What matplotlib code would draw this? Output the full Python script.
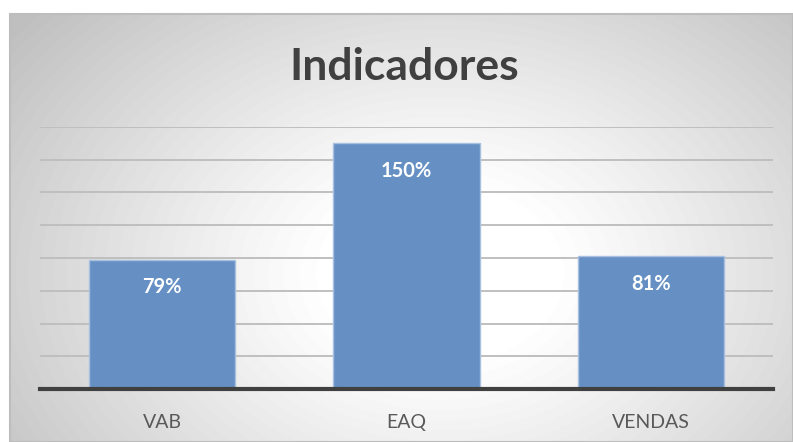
import matplotlib.pyplot as plt
import numpy as np
from matplotlib.patches import Rectangle

categories = ["VAB", "EAQ", "VENDAS"]
values = [79, 150, 81]
labels = ["79%", "150%", "81%"]
title = "Indicadores"

FONT = ["Lato", "DejaVu Sans"]


def main():
    W, H = 793, 442
    fig = plt.figure(figsize=(W / 100, H / 100), dpi=100)
    fig.patch.set_facecolor("white")

    # chart area with radial gradient background
    fl, fb = 10 / W, 0.0
    fw, fh = 1 - fl, 1 - 14 / H
    bg = fig.add_axes([fl, fb, fw, fh])
    yy, xx = np.mgrid[0:428, 0:783]
    cx, cy = 430, 260
    r = np.sqrt(((xx - cx) / 520.0) ** 2 + ((yy - cy) / 380.0) ** 2)
    shade = 1.0 - 0.25 * np.clip((r - 0.22) / 0.82, 0, 1) ** 1.1
    bg.imshow(shade, cmap="gray", vmin=0, vmax=1, aspect="auto",
              extent=[0, 1, 0, 1], origin="upper")
    bg.set_xlim(0, 1)
    bg.set_ylim(0, 1)
    bg.axis("off")
    fig.add_artist(Rectangle((fl, fb), fw, fh, transform=fig.transFigure,
                             fill=False, edgecolor="#bdbdbd", lw=1.5))

    ax = fig.add_axes([40 / W, 1 - 389 / H, (773 - 40) / W, (389 - 127) / H])
    ax.patch.set_alpha(0)
    x = np.arange(len(categories))
    ax.bar(x, values, width=0.6, color="#6690c4", edgecolor="#a8c0df",
           linewidth=1.0, zorder=3)
    ax.set_xlim(-0.5, len(categories) - 0.5)
    ax.set_ylim(0, 160)
    ax.set_yticks(np.arange(20, 161, 20))
    ax.yaxis.grid(True, color="#bfbfbf", lw=1.4, zorder=0)
    ax.tick_params(axis="y", left=False, labelleft=False)
    ax.tick_params(axis="x", length=0, pad=18)
    ax.set_xticks(x, categories, fontsize=14, color="#595959", family=FONT)
    for s in ["top", "right", "left"]:
        ax.spines[s].set_visible(False)
    ax.spines["bottom"].set_color("#404040")
    ax.spines["bottom"].set_linewidth(3)
    ax.spines["bottom"].set_zorder(4)

    for xi, v, lab in zip(x, values, labels):
        ax.annotate(lab, (xi, v), xytext=(0, -20), textcoords="offset points",
                    ha="center", va="center", color="white", fontsize=14.5,
                    fontweight="bold", family=FONT, zorder=5)

    fig.text(0.51, 1 - 67 / H, title, ha="center", va="center",
             fontsize=32, fontweight="bold", color="#404040", family=FONT)

    fig.savefig("out.png", dpi=100)


if __name__ == "__main__":
    main()
